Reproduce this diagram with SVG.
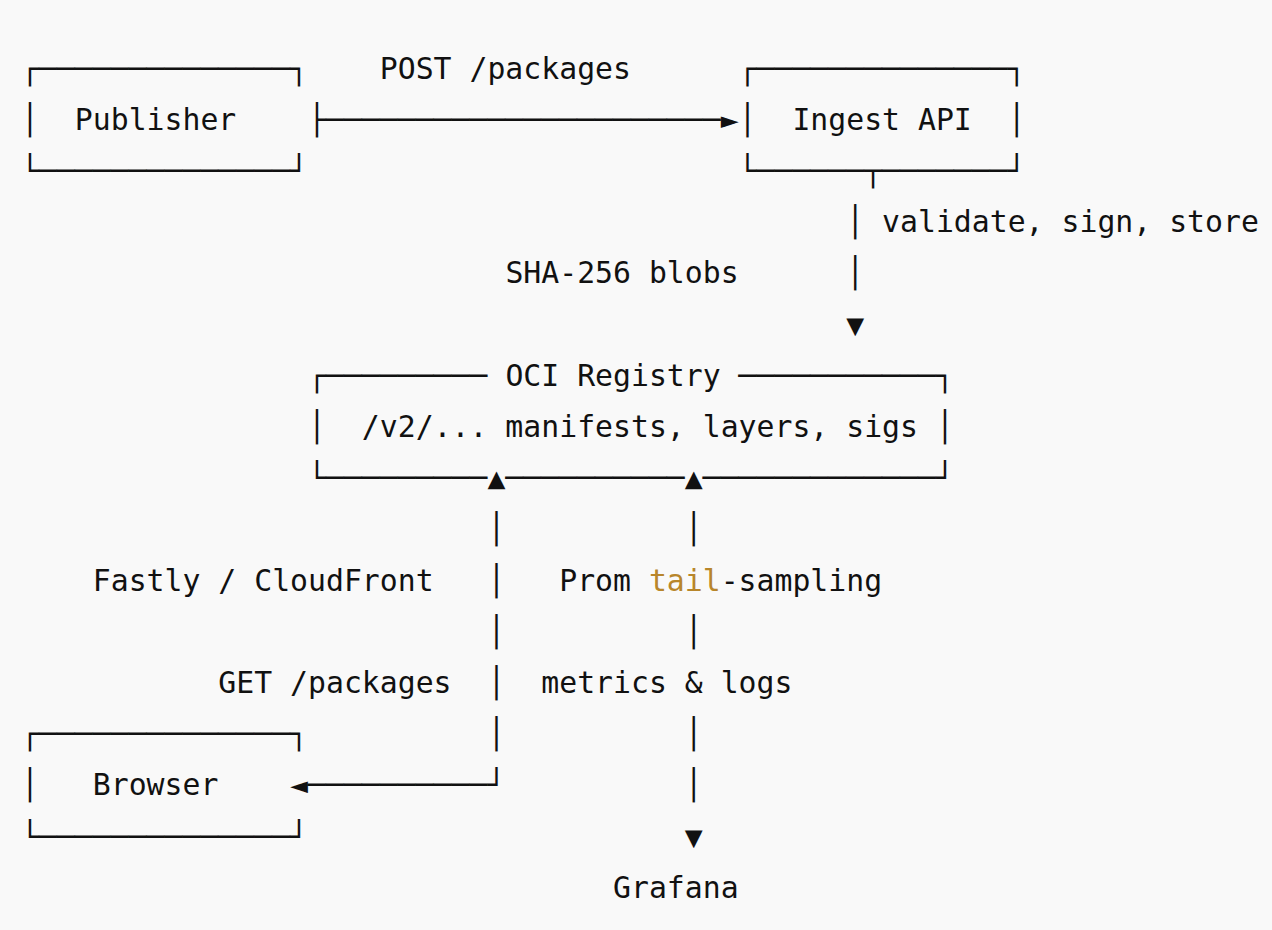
<svg xmlns="http://www.w3.org/2000/svg" width="1272" height="930" viewBox="0 0 1272 930">
<style>
text{font-family:"DejaVu Sans Mono","Liberation Mono",monospace;font-size:29.8px;fill:#111111}
.hl{fill:#b8862b}
</style>
<rect width="1272" height="930" fill="#f9f9f9"/>
<g transform="translate(0,-1.5)">
<g id="publisher">
<text x="21" y="80">┌──────────────┐</text>
<text x="21" y="131.2">│</text>
<text x="74.82" y="131.2">Publisher</text>
<text x="21" y="182.4">└──────────────┘</text>
</g>
<g id="ingest-api">
<text x="738.6" y="80">┌──────────────┐</text>
<text x="738.6" y="131.2">│</text>
<text x="792.42" y="131.2">Ingest API</text>
<text x="1007.7" y="131.2">│</text>
<text x="738.6" y="182.4">└──────┬───────┘</text>
</g>
<g id="oci-registry">
<text x="308.04" y="387.2">┌─────────</text>
<text x="505.38" y="387.2">OCI Registry</text>
<text x="738.6" y="387.2">───────────┐</text>
<text x="308.04" y="438.4">│</text>
<text x="361.86" y="438.4">/v2/... manifests, layers, sigs</text>
<text x="935.94" y="438.4">│</text>
<text x="308.04" y="489.6">└─────────</text>
<text x="505.38" y="489.6">──────────</text>
<text x="702.72" y="489.6">─────────────┘</text>
</g>
<g id="browser">
<text x="21" y="745.6">┌──────────────┐</text>
<text x="21" y="796.8">│</text>
<text x="92.76" y="796.8">Browser</text>
<text x="21" y="848">└──────────────┘</text>
</g>
<g id="grafana">
<text x="613.02" y="899.2">Grafana</text>
</g>
<g id="connectors">
<g id="publish">
<text x="308.04" y="131.2">├──────────────────────►</text>
<text x="379.8" y="80">POST /packages</text>
</g>
<g id="store">
<text x="846.24" y="233.6">│</text>
<text x="846.24" y="284.8">│</text>
<text x="846.24" y="336">▼</text>
<text x="882.12" y="233.6">validate, sign, store</text>
<text x="505.38" y="284.8">SHA-256 blobs</text>
</g>
<g id="serve">
<text x="487.44" y="489.6">▲</text>
<text x="487.44" y="540.8">│</text>
<text x="487.44" y="592">│</text>
<text x="487.44" y="643.2">│</text>
<text x="487.44" y="694.4">│</text>
<text x="487.44" y="745.6">│</text>
<text x="290.1" y="796.8">◄──────────┘</text>
<text x="92.76" y="592">Fastly / CloudFront</text>
<text x="218.34" y="694.4">GET /packages</text>
</g>
<g id="observe">
<text x="684.78" y="489.6">▲</text>
<text x="684.78" y="540.8">│</text>
<text x="684.78" y="643.2">│</text>
<text x="684.78" y="745.6">│</text>
<text x="684.78" y="796.8">│</text>
<text x="684.78" y="848">▼</text>
<text x="559.2" y="592">Prom <tspan class="hl">tail</tspan>-sampling</text>
<text x="541.26" y="694.4">metrics &amp; logs</text>
</g>
</g>
</g>
</svg>
